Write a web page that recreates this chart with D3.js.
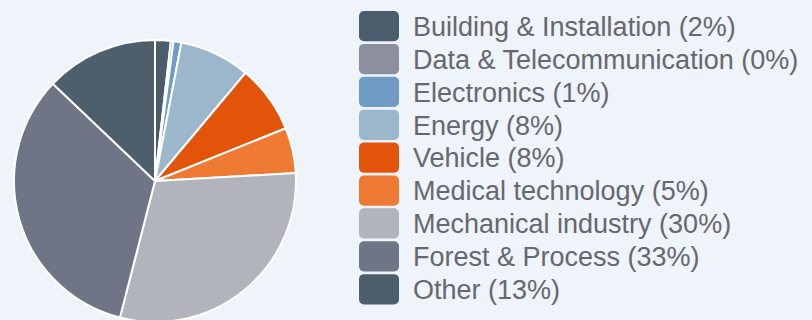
<!DOCTYPE html>
<html>
<head>
<meta charset="utf-8">
<script src="https://cdn.jsdelivr.net/npm/d3@7"></script>
<style>
  html, body { margin: 0; padding: 0; background: #eff3fa; }
  svg { display: block; }
</style>
</head>
<body>
<svg id="chart" width="812" height="320"></svg>
<script>
// Share of sales per industry segment
const categories = [
  "Building & Installation",
  "Data & Telecommunication",
  "Electronics",
  "Energy",
  "Vehicle",
  "Medical technology",
  "Mechanical industry",
  "Forest & Process",
  "Other"
];
const values = [1.8, 0.3, 0.9, 8.1, 7.8, 5.2, 29.9, 33.1, 12.9];
const colors = [
  "#4b5d6c", "#8c909c", "#6f9bc4", "#9cb7cb", "#e1540a",
  "#ef7a33", "#b1b3bd", "#6f7586", "#4d5e6c"
];

const data = categories.map((c, i) => ({ name: c, value: values[i], color: colors[i] }));
const total = d3.sum(values);

const svg = d3.select("#chart");

const cx = 155, cy = 181, radius = 141;

const pie = d3.pie().value(d => d.value).sort(null);
const arc = d3.arc().innerRadius(0).outerRadius(radius);

svg.append("g")
  .attr("transform", `translate(${cx},${cy})`)
  .selectAll("path")
  .data(pie(data))
  .join("path")
  .attr("d", arc)
  .attr("fill", d => d.data.color)
  .attr("stroke", "#ffffff")
  .attr("stroke-width", 2)
  .attr("stroke-linejoin", "round");

// Legend
const rowY = d3.scaleBand()
  .domain(categories)
  .range([11, 11 + 32.6 * categories.length])
  .paddingInner(0.08);

const legend = svg.append("g");
const rows = legend.selectAll("g")
  .data(data)
  .join("g")
  .attr("transform", d => `translate(359,${rowY(d.name)})`);

rows.append("rect")
  .attr("width", 40)
  .attr("height", rowY.bandwidth())
  .attr("rx", 5)
  .attr("fill", d => d.color);

rows.append("text")
  .attr("x", 54)
  .attr("y", rowY.bandwidth() / 2)
  .attr("dy", "0.36em")
  .attr("font-family", "'Liberation Sans', Arial, sans-serif")
  .attr("font-size", 27)
  .attr("fill", "#65686d")
  .text(d => `${d.name} (${Math.round(d.value / total * 100)}%)`);
</script>
</body>
</html>
